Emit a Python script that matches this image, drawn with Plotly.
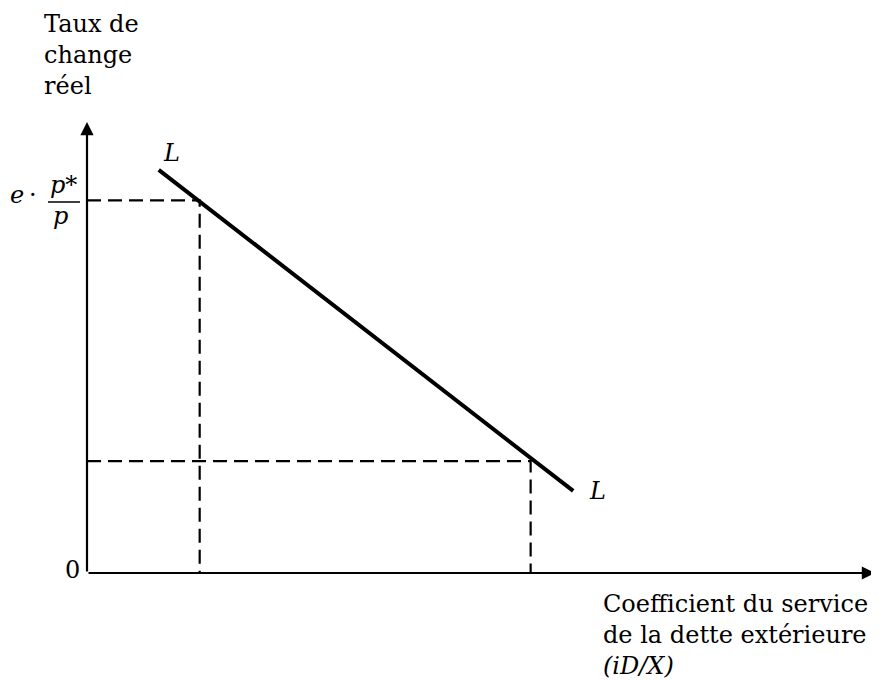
import plotly.graph_objects as go

# Courbe L (coordonnées en % des axes)
l_x = [9.1, 61.7]
l_y = [89.4, 18.2]

# Points projetés sur les axes
proj_x = [14.3, 56.3]
proj_y = [82.6, 24.8]

axis_label_y = "Taux de<br>change<br>réel"
axis_label_x = "Coefficient du service<br>de la dette extérieure<br><i>(iD/X)</i>"

FONT = "DejaVu Serif"

# page pixel -> paper coords (origin of the axes at page pixel 87, 573)
def px(x):
    return (x - 87) / 788

def py(y):
    return (573 - y) / 451

fig = go.Figure()

# dashed projections
for x_, y_ in zip(proj_x, proj_y):
    fig.add_trace(go.Scatter(
        x=[0, x_, x_], y=[y_, y_, 0],
        mode="lines",
        line=dict(color="black", width=2.2, dash="14px,7px"),
        hoverinfo="skip",
    ))

# courbe L
fig.add_trace(go.Scatter(
    x=l_x, y=l_y,
    mode="lines",
    line=dict(color="black", width=4),
    hoverinfo="skip",
))

# axes avec flèches
fig.add_annotation(x=100, y=0, ax=0, ay=0, xref="x", yref="y", axref="x", ayref="y",
                   showarrow=True, arrowhead=2, arrowsize=1.2, arrowwidth=2.2,
                   arrowcolor="black", text="")
fig.add_annotation(x=0, y=100, ax=0, ay=0, xref="x", yref="y", axref="x", ayref="y",
                   showarrow=True, arrowhead=2, arrowsize=1.2, arrowwidth=2.2,
                   arrowcolor="black", text="")

txt = dict(family=FONT, size=24, color="black")

# titres des axes
fig.add_annotation(x=px(42), y=py(8), xref="paper", yref="paper",
                   text=axis_label_y, showarrow=False, xanchor="left", yanchor="top",
                   align="left", font=txt)
fig.add_annotation(x=px(601), y=py(588), xref="paper", yref="paper",
                   text=axis_label_x, showarrow=False, xanchor="left", yanchor="top",
                   align="left", font=txt)

# e · p*/p
fig.add_annotation(x=px(8), y=py(195), xref="paper", yref="paper",
                   text="<i>e</i>", showarrow=False, xanchor="left", yanchor="middle",
                   font=txt)
fig.add_annotation(x=px(33), y=py(195), xref="paper", yref="paper",
                   text="·", showarrow=False, xanchor="center", yanchor="middle",
                   font=txt)
fig.add_annotation(x=px(63), y=py(185), xref="paper", yref="paper",
                   text="<i>p*</i>", showarrow=False, xanchor="center", yanchor="middle",
                   font=txt)
fig.add_annotation(x=px(60), y=py(216), xref="paper", yref="paper",
                   text="<i>p</i>", showarrow=False, xanchor="center", yanchor="middle",
                   font=txt)
fig.add_shape(type="line", xref="paper", yref="paper",
              x0=px(48), x1=px(80), y0=py(202), y1=py(202),
              line=dict(color="black", width=1.5))

# origine et étiquettes L
fig.add_annotation(x=px(72), y=py(570), xref="paper", yref="paper", text="0",
                   showarrow=False, xanchor="center", yanchor="middle", font=txt)
fig.add_annotation(x=px(171), y=py(153), xref="paper", yref="paper", text="<i>L</i>",
                   showarrow=False, xanchor="center", yanchor="middle", font=txt)
fig.add_annotation(x=px(597), y=py(491), xref="paper", yref="paper", text="<i>L</i>",
                   showarrow=False, xanchor="center", yanchor="middle", font=txt)

fig.update_xaxes(range=[0, 100], visible=False)
fig.update_yaxes(range=[0, 100], visible=False)

# the page body adds an 8px margin, so the figure is 8px smaller
fig.update_layout(
    width=871, height=672,
    margin=dict(l=79, r=4, t=114, b=107),
    plot_bgcolor="white", paper_bgcolor="white",
    showlegend=False,
)

fig.write_html("out.html")
